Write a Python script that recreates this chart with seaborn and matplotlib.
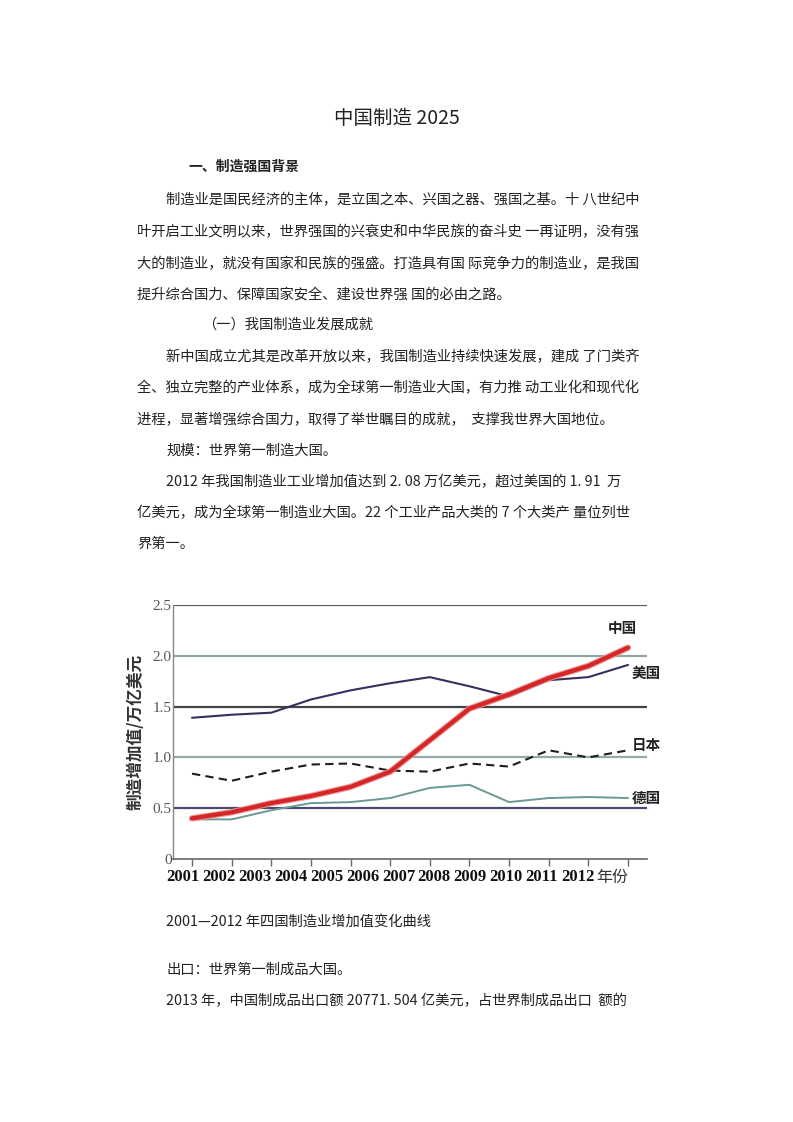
import matplotlib
matplotlib.use("Agg")
import matplotlib.pyplot as plt
import seaborn as sns
import pandas as pd

years = [2001, 2002, 2003, 2004, 2005, 2006, 2007, 2008, 2009, 2010, 2011, 2012]
china = [0.40, 0.46, 0.55, 0.62, 0.71, 0.86, 1.17, 1.48, 1.62, 1.78, 1.90, 2.08]
usa = [1.39, 1.42, 1.44, 1.57, 1.66, 1.73, 1.79, 1.70, 1.60, 1.76, 1.79, 1.91]
japan = [0.84, 0.77, 0.86, 0.93, 0.94, 0.87, 0.86, 0.94, 0.91, 1.07, 1.00, 1.07]
germany = [0.39, 0.39, 0.48, 0.55, 0.56, 0.60, 0.70, 0.73, 0.56, 0.60, 0.61, 0.60]

series_names = ["中国", "美国", "日本", "德国"]
y_ticks = [0, 0.5, 1.0, 1.5, 2.0, 2.5]
y_tick_labels = ["0", "0.5", "1.0", "1.5", "2.0", "2.5"]
year_labels = ["2001", "2002", "2003", "2004", "2005", "2006",
               "2007", "2008", "2009", "2010", "2011", "2012", "年份"]

sns.set_style("white")
plt.rcParams["font.family"] = ["Noto Sans CJK SC", "DejaVu Sans"]

CJK = ["Noto Sans CJK SC", "DejaVu Sans"]
SERIF = ["Liberation Serif", "Noto Sans CJK SC"]

fig = plt.figure(figsize=(7.93, 11.22), dpi=100)

W, H = 793, 1122


def put(x, y, s, size=10.3, weight="normal", ha="left", family=CJK, color="#222222"):
    fig.text(x / W, 1 - y / H, s, fontsize=size, fontweight=weight, ha=ha,
             va="center", family=family, color=color)


# page text
put(397, 118, "中国制造 2025", size=14, ha="center")
put(188, 167, "一、制造强国背景", size=10, weight="bold")
lines = [
    (166, 200, "制造业是国民经济的主体，是立国之本、兴国之器、强国之基。十 八世纪中"),
    (137, 232, "叶开启工业文明以来，世界强国的兴衰史和中华民族的奋斗史 一再证明，没有强"),
    (137, 264, "大的制造业，就没有国家和民族的强盛。打造具有国 际竞争力的制造业，是我国"),
    (137, 295, "提升综合国力、保障国家安全、建设世界强 国的必由之路。"),
    (202, 325, "（一）我国制造业发展成就"),
    (166, 357, "新中国成立尤其是改革开放以来，我国制造业持续快速发展，建成 了门类齐"),
    (137, 388, "全、独立完整的产业体系，成为全球第一制造业大国，有力推 动工业化和现代化"),
    (137, 420, "进程，显著增强综合国力，取得了举世瞩目的成就，  支撑我世界大国地位。"),
    (166, 451, "规模：世界第一制造大国。"),
    (166, 482, "2012 年我国制造业工业增加值达到 2. 08 万亿美元，超过美国的 1. 91  万"),
    (137, 513, "亿美元，成为全球第一制造业大国。22 个工业产品大类的 7 个大类产 量位列世"),
    (137, 544, "界第一。"),
    (166, 922, "2001—2012 年四国制造业增加值变化曲线"),
    (166, 970, "出口：世界第一制成品大国。"),
    (166, 1001, "2013 年，中国制成品出口额 20771. 504 亿美元，占世界制成品出口  额的"),
]
for x, y, s in lines:
    put(x, y, s)

# chart
ax = fig.add_axes([173 / W, 1 - 859 / H, (647 - 173) / W, (859 - 605) / H])

df = pd.DataFrame({"year": years * 4,
                   "value": china + usa + japan + germany,
                   "country": sum([[n] * len(years) for n in series_names], [])})

grid_colors = ["#5a5a5a", "#8fa6a6", "#444444", "#94aaaa", "#4a4a6e"]
for yv, c in zip([2.5, 2.0, 1.5, 1.0, 0.5], grid_colors):
    ax.axhline(yv, color=c, lw=1.6, zorder=1)

sns.lineplot(data=df[df.country == "德国"], x="year", y="value", color="#6b9994",
             lw=1.4, ax=ax, zorder=3)
sns.lineplot(data=df[df.country == "日本"], x="year", y="value", color="#1e1e1e",
             lw=1.5, ax=ax, zorder=3, linestyle=(0, (4, 2.5)))
sns.lineplot(data=df[df.country == "美国"], x="year", y="value", color="#3b2d5c",
             lw=1.5, ax=ax, zorder=3)
sns.lineplot(data=df[df.country == "中国"], x="year", y="value", color="#ee8a8a",
             lw=4.6, ax=ax, zorder=4, alpha=0.9)
sns.lineplot(data=df[df.country == "中国"], x="year", y="value", color="#d42626",
             lw=3.0, ax=ax, zorder=5)

ax.set_xlim(2000.52, 2012.48)
ax.set_ylim(0, 2.5)
ax.set_xticks(years)
ax.set_xticklabels([])
ax.set_yticks(y_ticks)
ax.set_yticklabels(y_tick_labels, family=SERIF, fontsize=11, color="#555555")
ax.tick_params(axis="y", length=0, pad=1)
ax.tick_params(axis="x", bottom=True, length=5, width=1, color="#666666", direction="out")
ax.set_xlabel("")
ax.set_ylabel("制造增加值/万亿美元", fontsize=12, fontweight="bold", color="#333333",
              labelpad=6)
for side in ["top", "right"]:
    ax.spines[side].set_visible(False)
ax.spines["left"].set_color("#888888")
ax.spines["bottom"].set_color("#666666")
ax.spines["left"].set_linewidth(1.0)
ax.spines["bottom"].set_linewidth(1.2)
if ax.get_legend():
    ax.get_legend().remove()

label_pos = {"中国": (2011.5, 2.27), "美国": (2012.1, 1.83),
             "日本": (2012.1, 1.12), "德国": (2012.1, 0.60)}
for name in series_names:
    x, y = label_pos[name]
    ax.text(x, y, name, fontsize=10.5, fontweight="bold", color="#222222",
            ha="left", va="center", clip_on=False)

# year labels row under the chart
for i, lab in enumerate(year_labels):
    if lab.isdigit():
        put(183 + i * 35.9, 877, lab, size=12, weight="bold", ha="center",
            family=SERIF, color="#111111")
    else:
        put(183 + i * 35.9 - 2, 877, lab, size=11.5, ha="center", color="#333333")

fig.savefig("out.png", dpi=100)
